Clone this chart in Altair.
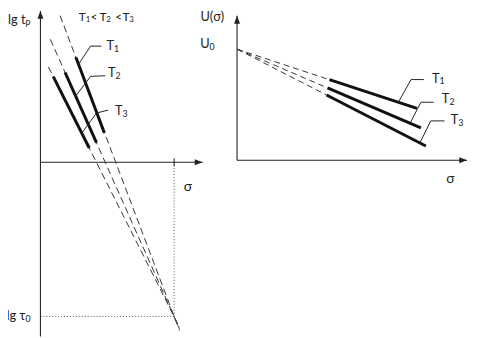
import altair as alt
import pandas as pd

# ---------------- data (schematic units) ----------------
series = ["T1", "T2", "T3"]

# Left panel: lg t_p versus sigma; all lines converge at (sigma_D, lg tau_0)
sigma_D = 1.0
lg_tau0 = -1.0
left_dash_top_sigma = [0.147, 0.074, 0.059]
left_dash_top_lgt = [0.949, 0.796, 0.618]
left_dash_end_sigma = [1.04, 1.04, 1.04]
left_dash_end_lgt = [-1.09, -1.08, -1.07]
left_solid_sigma = [(0.265, 0.478), (0.184, 0.419), (0.096, 0.365)]
left_solid_lgt = [(0.680, 0.190), (0.582, 0.127), (0.554, 0.092)]
left_axis_top = 0.98      # lg t axis arrow tip
left_axis_bottom = -1.13
left_axis_right = 1.213   # sigma axis arrow tip

# Right panel: U(sigma) versus sigma; all lines start at U0
U0 = 1.0
right_dash_end_sigma = [0.94, 0.92, 0.91]
right_dash_end_U = [0.725, 0.651, 0.587]
right_solid_end_sigma = [1.83, 1.87, 1.92]
right_solid_end_U = [0.466, 0.291, 0.128]
right_axis_top = 1.30
right_axis_right = 2.34

# ---------------- layout ----------------
W, H = 473, 330
L_X0, L_PXU, L_Y0, L_PYU = 33, 136, 154, 157
R_X0, R_PXU, R_Y0, R_PYU = 233, 100, 152, 113

def xscale(p0, ppu):
    return alt.Scale(domain=[-p0 / ppu, (W - p0) / ppu], nice=False, zero=False)

def yscale(p0, ppu):
    return alt.Scale(domain=[(p0 - H) / ppu, p0 / ppu], nice=False, zero=False)

LXS, LYS = xscale(L_X0, L_PXU), yscale(L_Y0, L_PYU)
RXS, RYS = xscale(R_X0, R_PXU), yscale(R_Y0, R_PYU)

INK = "#222222"
FONT = "Lato"
ARROW_UP = "M0,0L0.38,1L-0.38,1Z"
ARROW_RIGHT = "M0,0L-1,-0.38L-1,0.38Z"


def pos(xs, ys):
    return dict(x=alt.X("x:Q", scale=xs, axis=None), y=alt.Y("y:Q", scale=ys, axis=None))


def lines(rows, xs, ys, **mk):
    df = pd.DataFrame(rows, columns=["g", "o", "x", "y"])
    return alt.Chart(df).mark_line(clip=False, **mk).encode(
        **pos(xs, ys), detail="g:N", order="o:Q")


def polyl(segments):
    rows = []
    for gi, pts in enumerate(segments):
        for oi, (x, y) in enumerate(pts):
            rows.append((gi, oi, x, y))
    return rows


def texts(rows, xs, ys, **mk):
    df = pd.DataFrame([r for r in rows if r[2]], columns=["x", "y", "t"])
    return alt.Chart(df).mark_text(font=FONT, color=INK, baseline="middle", **mk).encode(
        **pos(xs, ys), text="t:N")


def arrows(rows, shape, xs, ys):
    df = pd.DataFrame(rows, columns=["x", "y"])
    return alt.Chart(df).mark_point(shape=shape, filled=True, size=256, color=INK,
                                     opacity=1, strokeWidth=0).encode(**pos(xs, ys))


def label_pairs(rows, xs, ys, size=13, subsize=9):
    main = texts([(x, y, m) for x, y, m, s in rows], xs, ys, align="right", fontSize=size)
    sub = texts([(x, y, s) for x, y, m, s in rows], xs, ys, align="left", fontSize=subsize, dy=3)
    return [main, sub]


# ---------------- left panel ----------------
l_axes = lines(polyl([
    [(0, left_axis_bottom), (0, left_axis_top)],
    [(0, 0), (left_axis_right, 0)],
]), LXS, LYS, color=INK, strokeWidth=1.1)
l_tick = lines(polyl([[(sigma_D, 0.026), (sigma_D, -0.026)]]), LXS, LYS, color=INK, strokeWidth=1)
l_guides = lines(polyl([
    [(sigma_D, 0), (sigma_D, lg_tau0)],
    [(0, lg_tau0), (sigma_D, lg_tau0)],
]), LXS, LYS, color="#555555", strokeWidth=1, strokeDash=[1, 2])
l_dash = lines(polyl([
    [(left_dash_top_sigma[i], left_dash_top_lgt[i]), (left_dash_end_sigma[i], left_dash_end_lgt[i])]
    for i in range(3)
]), LXS, LYS, color="#333333", strokeWidth=1, strokeDash=[7, 4])
l_solid = lines(polyl([
    list(zip(left_solid_sigma[i], left_solid_lgt[i])) for i in range(3)
]), LXS, LYS, color="#111111", strokeWidth=3)
l_leaders = lines(polyl([
    [(0.456, 0.752), (0.375, 0.752), (0.287, 0.637)],
    [(0.485, 0.560), (0.375, 0.556), (0.265, 0.430)],
    [(0.507, 0.338), (0.419, 0.318), (0.309, 0.188)],
]), LXS, LYS, color=INK, strokeWidth=1)
l_arrows_up = arrows([(0, left_axis_top)], ARROW_UP, LXS, LYS)
l_arrows_right = arrows([(left_axis_right, 0)], ARROW_RIGHT, LXS, LYS)
l_labels = label_pairs([
    (-0.112, 0.924, "lg t", "p"),
    (-0.112, -0.994, "lg τ", "0"),
    (0.551, 0.752, "T", "1"),
    (0.562, 0.576, "T", "2"),
    (0.614, 0.334, "T", "3"),
], LXS, LYS)
l_header = label_pairs([
    (0.338, 0.943, "T", "1"),
    (0.426, 0.943, "<", ""),
    (0.493, 0.943, "T", "2"),
    (0.610, 0.943, "<", ""),
    (0.665, 0.943, "T", "3"),
], LXS, LYS, size=12, subsize=8)
l_sigma = texts([(1.103, -0.159, "σ")], LXS, LYS, align="center", fontSize=14)

left = alt.layer(l_guides, l_axes, l_tick, l_dash, l_solid, l_leaders,
                 l_arrows_up, l_arrows_right, l_sigma, *l_labels, *l_header)

# ---------------- right panel ----------------
r_axes = lines(polyl([
    [(0, 0), (0, right_axis_top)],
    [(0, 0), (right_axis_right, 0)],
]), RXS, RYS, color=INK, strokeWidth=1.1)
r_dash = lines(polyl([
    [(0, U0), (right_dash_end_sigma[i], right_dash_end_U[i])] for i in range(3)
]), RXS, RYS, color="#333333", strokeWidth=1, strokeDash=[6, 4])
r_solid = lines(polyl([
    [(right_dash_end_sigma[i], right_dash_end_U[i]), (right_solid_end_sigma[i], right_solid_end_U[i])]
    for i in range(3)
]), RXS, RYS, color="#111111", strokeWidth=3)
r_leaders = lines(polyl([
    [(1.90, 0.726), (1.77, 0.726), (1.64, 0.521)],
    [(2.00, 0.522), (1.87, 0.522), (1.76, 0.333)],
    [(2.11, 0.354), (1.97, 0.354), (1.86, 0.156)],
]), RXS, RYS, color=INK, strokeWidth=1)
r_arrows_up = arrows([(0, right_axis_top)], ARROW_UP, RXS, RYS)
r_arrows_right = arrows([(right_axis_right, 0)], ARROW_RIGHT, RXS, RYS)
r_labels = label_pairs([
    (-0.28, 1.044, "U", "0"),
    (2.06, 0.735, "T", "1"),
    (2.16, 0.549, "T", "2"),
    (2.25, 0.363, "T", "3"),
], RXS, RYS)
r_text = texts([(-0.13, 1.292, "U(σ)")], RXS, RYS, align="right", fontSize=13)
r_sigma = texts([(2.17, -0.168, "σ")], RXS, RYS, align="center", fontSize=14)

right = alt.layer(r_axes, r_dash, r_solid, r_leaders, r_arrows_up, r_arrows_right,
                  r_text, r_sigma, *r_labels)

chart = (
    alt.layer(left, right)
    .resolve_scale(x="independent", y="independent")
    .properties(width=W, height=H, padding=0,
                autosize=alt.AutoSizeParams(type="none"), background="white")
    .configure_view(stroke=None)
)

chart.save("out.html", embed_options={"renderer": "svg", "actions": False})
